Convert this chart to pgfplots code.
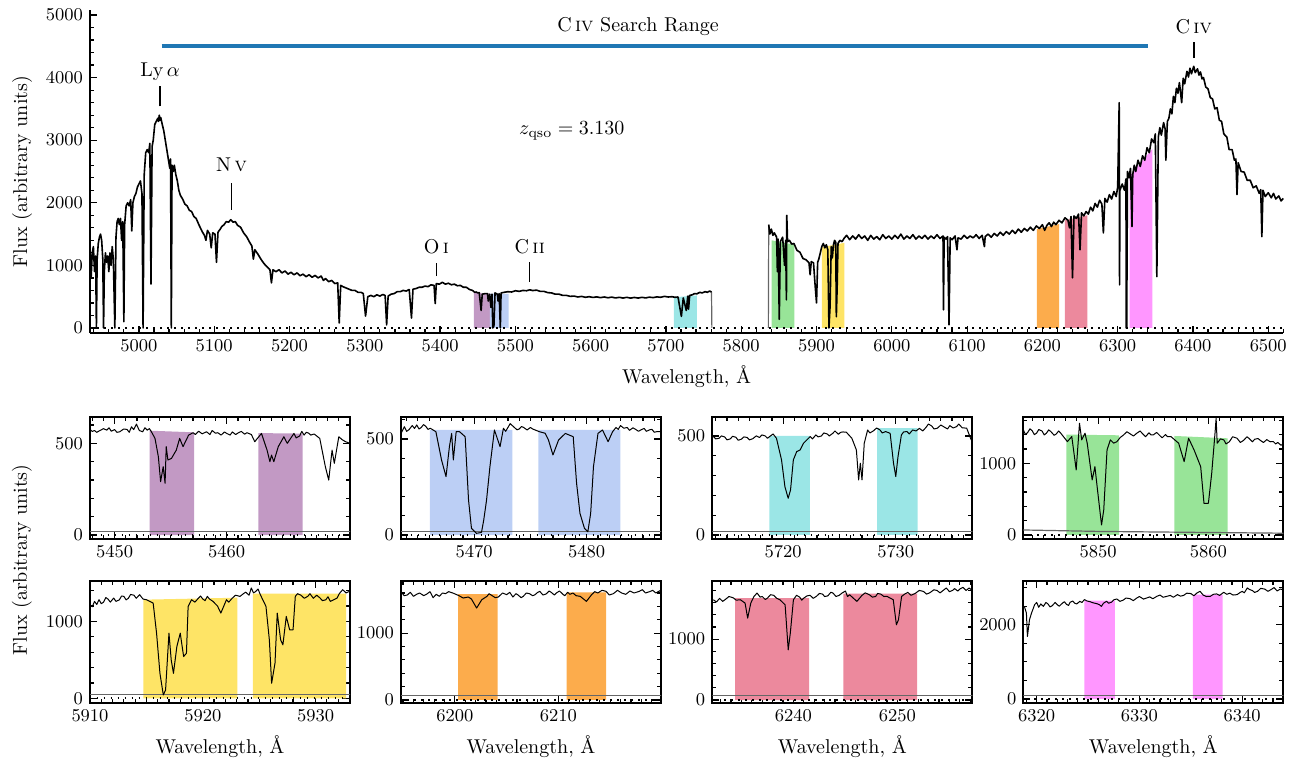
\documentclass[border=0pt]{standalone}
\usepackage{pgfplots}
\pgfplotsset{compat=1.18}
\definecolor{cpurple}{RGB}{194,153,196}
\definecolor{cblue}{RGB}{188,207,245}
\definecolor{ccyan}{RGB}{155,230,230}
\definecolor{cgreen}{RGB}{152,228,152}
\definecolor{cyellow}{RGB}{254,228,102}
\definecolor{corange}{RGB}{252,172,76}
\definecolor{cpink}{RGB}{236,137,157}
\definecolor{cmagenta}{RGB}{255,150,255}
\definecolor{mplblue}{RGB}{31,119,180}
\pgfplotsset{
  base/.style={scale only axis, tick align=inside, scaled ticks=false,
    /pgf/number format/1000 sep={},
    axis line style={line width=0.9pt},
    tick style={black, line width=0.6pt},
    tick label style={font=\fontsize{9.5}{11}\selectfont},
    label style={font=\fontsize{10}{12}\selectfont}},
  small/.style={base, width=130pt, height=61pt, major tick length=3.5pt,
    minor tick length=2pt},
  spec/.style={black, line width=0.5pt, line join=round},
  zl/.style={black, line width=0.9pt, dash pattern=on 0.9pt off 2.6pt},
  el/.style={black!60, line width=0.6pt},
  mspec/.style={black, line width=0.8pt, line join=round},
}
\begin{document}
\begin{tikzpicture}
\path[use as bounding box] (0,0) rectangle (649.5pt,380pt);
% ---------------- main panel ----------------
\begin{axis}[base, at={(45pt,213.5pt)}, anchor=south west,
  width=596.65pt, height=161.5pt,
  xmin=4935, xmax=6520, ymin=-80, ymax=5080,
  axis x line*=bottom, axis y line*=left,
  xtick={5000,5100,...,6500}, ytick={0,1000,...,5000},
  minor xtick={4940,4960,...,6520}, minor ytick={0,200,...,5000},
  major tick length=3.5pt, minor tick length=1.8pt,
  xlabel={Wavelength, \AA}, ylabel={Flux (arbitrary units)}, clip=false]
\addplot[draw=none, fill=cpurple] coordinates {(5445,0) (5445,565) (5466,550) (5466,0)} \closedcycle;
\addplot[draw=none, fill=cblue] coordinates {(5466,0) (5466,550) (5491,545) (5491,0)} \closedcycle;
\addplot[draw=none, fill=ccyan] coordinates {(5710.5,0) (5710.5,490) (5741,520) (5741,0)} \closedcycle;
\addplot[draw=none, fill=cgreen] coordinates {(5840.5,0) (5840.5,1400) (5870.6,1330) (5870.6,0)} \closedcycle;
\addplot[draw=none, fill=cyellow] coordinates {(5907,0) (5907,1290) (5937,1360) (5937,0)} \closedcycle;
\addplot[draw=none, fill=corange] coordinates {(6192.7,0) (6192.7,1580) (6222.3,1660) (6222.3,0)} \closedcycle;
\addplot[draw=none, fill=cpink] coordinates {(6230,0) (6230,1720) (6259.6,1800) (6259.6,0)} \closedcycle;
\addplot[draw=none, fill=cmagenta] coordinates {(6316,0) (6316,2430) (6346,2860) (6346,0)} \closedcycle;
\addplot[zl] coordinates {(4935,0) (6520,0)};
\addplot[black!60, line width=0.6pt] coordinates {(5760.5,575) (5761,0)};
\addplot[black!60, line width=0.6pt] coordinates {(5836,0) (5836.5,1650)};
\addplot[mspec] coordinates {
(4935,1250) (4936.5,800) (4938,1200) (4939.5,1300) (4941,900) (4942.5,1150) (4943.5,0) (4944.5,1100)
(4946,1350) (4947.5,1450) (4949,1500) (4950.5,1400) (4952,1100) (4953,0) (4954,900) (4955.5,1200)
(4957,1050) (4958.5,1150) (4960,900) (4961.5,1200) (4963,1000) (4964.5,1300) (4966,1100) (4968,0)
(4969.5,1450) (4971,1700) (4972.5,1750) (4974,1650) (4975.5,1750) (4977,1400) (4978.5,1700) (4980,100)
(4981,1650) (4983,1950) (4985,2000) (4987,1950) (4989,2050) (4990.5,1550) (4992,2000) (4994,2100)
(4996,2150) (4998,2250) (5000,2300) (5002,2350) (5004,2150) (5005.5,0) (5007,2450) (5009,2800)
(5011,2850) (5013,2800) (5014.5,2950) (5016,700) (5017.5,2900) (5019,3000) (5021,3250) (5023,3300)
(5025,3350) (5026,3300) (5027,3400) (5028,3320) (5029,3360) (5031,3250) (5033,3150) (5035,3000) (5037,2850) (5039,2700)
(5041,2550) (5042,2700) (5043,0) (5044,2600) (5045.5,2500) (5047,2600) (5049,2450) (5051,2350)
(5053,2200) (5055,2120) (5058,2060) (5061,1980) (5064,1950) (5067,1880) (5070,1860) (5073,1780) (5076,1750) (5080,1640)
(5084,1540) (5087,1480) (5089,1400) (5091,1560) (5094,1500) (5096,1280) (5098,1520) (5101,1500)
(5103,1050) (5105,1530) (5108,1580) (5110,1620) (5113,1650) (5116,1700) (5119,1690) (5122,1730)
(5125,1690) (5128,1700) (5131,1640) (5135,1610) (5139,1520) (5143,1460) (5147,1370) (5150,1310)
(5152,1100) (5154,1250) (5158,1180) (5162,1100) (5166,1030) (5170,980) (5174,930) (5176,720)
(5178,930) (5182,900) (5186,930) (5190,880) (5194,910) (5198,860) (5202,890) (5206,850)
(5210,880) (5214,835) (5218,860) (5222,820) (5226,850) (5230,810) (5234,840) (5238,800)
(5242,830) (5245,760) (5248,790) (5252,740) (5256,760) (5260,710) (5264,720) (5266,80)
(5268,680) (5271,660) (5275,640) (5279,620) (5283,600) (5287,600) (5291,570) (5295,570)
(5298,550) (5301,190) (5304,500) (5308,520) (5312,500) (5316,530) (5320,510) (5324,535)
(5327,520) (5329,50) (5331,510) (5335,540) (5339,550) (5343,580) (5347,580) (5351,600)
(5355,590) (5359,615) (5362,160) (5364,620) (5368,630) (5372,650) (5376,650) (5380,670)
(5384,660) (5388,690) (5392,680) (5393.5,390) (5395,710) (5399,700) (5403,730) (5407,700)
(5411,715) (5415,690) (5419,700) (5423,675) (5427,680) (5431,650) (5435,650) (5439,615)
(5443,600) (5446,570) (5448,575) (5450,560) (5452,565) (5454.5,280) (5456,540) (5460,550) (5463,550)
(5464,430) (5466,540) (5467.5,330) (5469,540) (5470,0) (5471.5,30) (5473,560) (5476,540)
(5477,430) (5478.5,550) (5480,0) (5481,560) (5485,570) (5490,580) (5495,575) (5500,595)
(5505,585) (5510,600) (5515,595) (5519,610) (5523,598) (5528,605) (5533,585) (5538,585)
(5543,565) (5548,560) (5553,540) (5558,540) (5563,520) (5568,520) (5573,505) (5578,510)
(5583,495) (5588,505) (5593,490) (5598,500) (5603,488) (5608,497) (5613,485) (5618,495)
(5623,483) (5628,493) (5633,480) (5638,490) (5643,478) (5648,490) (5653,477) (5658,488)
(5663,478) (5668,490) (5673,480) (5678,493) (5683,485) (5688,497) (5693,490) (5698,505)
(5703,495) (5708,500) (5712,490) (5716,495) (5720.5,185) (5723,480) (5727,280) (5729,510)
(5730,300) (5731.5,520) (5735,530) (5738,550) (5741,545) (5745,570) (5748,560) (5752,580)
(5755,570) (5758,590) (5760.5,575)};
\addplot[mspec] coordinates {
(5836.5,1650) (5838,1500) (5840,1580) (5842,1480) (5844,1520) (5847,1450) (5848,900) (5849,1420)
(5850.5,140) (5852,1380) (5855,1450) (5857.5,1000) (5859,1400) (5860,450) (5860.5,1800) (5861.5,1380)
(5864,1400) (5867,1340) (5870,1350) (5874,1240) (5878,1210) (5882,1110) (5886,1090) (5890,1040)
(5891.5,850) (5893,1060) (5896,1040) (5898,700) (5900,400) (5901.5,1050) (5903,1100) (5905,1200)
(5907,1300) (5909,1350) (5911,1280) (5913,1330) (5915,1250) (5916.5,0) (5918,350) (5919.5,1300)
(5921,1120) (5922.5,1330) (5924,1400) (5925.5,1370) (5926.3,180) (5927.5,700) (5928.5,1350) (5931,1400)
(5934,1380) (5937,1440) (5940,1480) (5944,1410) (5948,1470) (5952,1420) (5956,1490) (5960,1430)
(5964,1470) (5968,1400) (5972,1480) (5976,1420) (5980,1460) (5984,1410) (5988,1490) (5992,1430)
(5996,1470) (6000,1420) (6004,1480) (6008,1430) (6012,1500) (6016,1420) (6020,1470) (6024,1430)
(6028,1490) (6032,1420) (6036,1470) (6040,1430) (6044,1480) (6048,1420) (6052,1470) (6056,1430)
(6060,1490) (6064,1430) (6068,1470) (6068.6,290) (6069.5,1450) (6072,1420) (6074,1460) (6076,50)
(6077.5,1440) (6080,1410) (6084,1470) (6086.5,1250) (6088,1440) (6092,1420) (6096,1480) (6100,1430)
(6104,1470) (6108,1440) (6112,1490) (6116,1430) (6120,1480) (6123,1300) (6124,1460) (6128,1500)
(6132,1450) (6136,1510) (6140,1470) (6144,1530) (6148,1480) (6152,1540) (6156,1500) (6160,1560)
(6164,1510) (6168,1580) (6172,1530) (6176,1590) (6180,1550) (6184,1610) (6188,1560) (6192,1630)
(6196,1590) (6200,1650) (6203,1560) (6206,1640) (6209,1680) (6212,1620) (6215,1690) (6218,1650)
(6222,1720) (6226,1680) (6230,1760) (6234,1720) (6236,1600) (6238,1780) (6240,800) (6242,1790)
(6245,1750) (6248,1820) (6250,1250) (6252,1840) (6255,1790) (6258,1860) (6261,1820) (6264,1930)
(6267,1870) (6270,1990) (6273,1930) (6276,2040) (6279,1980) (6281,1520) (6283,2070) (6286,2010)
(6289,2130) (6292,2060) (6295,2180) (6298,2100) (6300,2250) (6302,3600) (6302.5,690) (6303,2200)
(6306,2300) (6309,2200) (6311,2380) (6311.4,0) (6312,0) (6313,2500) (6315,2400) (6317,2550)
(6319,1620) (6320,2450) (6322,2600) (6324,2500) (6327,2680) (6330,2580) (6333,2750) (6336,2680)
(6339,2880) (6342,2800) (6345,3020) (6348,2960) (6350,3100) (6352,820) (6354,3050) (6356,3200)
(6358,3080) (6361,3280) (6363,3180) (6364,2680) (6366,3300) (6368,3350) (6370,3500) (6372,3420)
(6374,3700) (6376,3600) (6378,3830) (6380,3750) (6382,3920) (6385,3600) (6387,3990) (6389,3900)
(6392,4100) (6394,4010) (6396,4150) (6398,4060) (6401,4180) (6403,4080) (6406,4140) (6408,4040)
(6410,4090) (6412,3980) (6414,4000) (6417,3850) (6420,3820) (6423,3680) (6426,3660) (6429,3500)
(6432,3520) (6435,3320) (6438,3300) (6441,3100) (6445,3050) (6448,2850) (6452,2850) (6455,2680)
(6457,2700) (6458.5,2130) (6460,2640) (6464,2500) (6468,2490) (6472,2360) (6476,2360) (6480,2240)
(6484,2270) (6488,2150) (6490,2210) (6491.5,1460) (6493,2200) (6496,2100) (6500,2160) (6504,2080)
(6507,2150) (6510,2060) (6514,2110) (6517,2030) (6520,2070)};
% annotations
\addplot[mplblue, line width=2pt] coordinates {(5030,4500) (6340,4500)};
\node at (axis cs:5663,4820) {C\,\textsc{iv} Search Range};
\addplot[black, line width=0.8pt] coordinates {(5028,3540) (5028,3860)};
\node at (axis cs:5028,4090) {Ly\,$\alpha$};
\addplot[black, line width=0.8pt] coordinates {(5123,1890) (5123,2320)};
\node at (axis cs:5123,2600) {N\,\textsc{v}};
\addplot[black, line width=0.8pt] coordinates {(5395,830) (5395,1040)};
\node at (axis cs:5395,1300) {O\,\textsc{i}};
\addplot[black, line width=0.8pt] coordinates {(5519,740) (5519,1060)};
\node at (axis cs:5519,1300) {C\,\textsc{ii}};
\addplot[black, line width=0.8pt] coordinates {(6401,4310) (6401,4570)};
\node at (axis cs:6401,4810) {C\,\textsc{iv}};
\node at (axis cs:5575,3150) {$z_{\mathrm{qso}} = 3.130$};
\end{axis}
% ---------------- row 1 ----------------
\begin{axis}[small, at={(45pt,110.35pt)}, anchor=south west,
  xmin=5447.8, xmax=5471, ymin=-23, ymax=642, xtick={5450,5460}, ytick={0,500},
  minor xtick={5448,5449,...,5471}, minor ytick={0,100,...,600}]
\addplot[draw=none, fill=cpurple] coordinates {(5453.13,0) (5453.13,569) (5457.1,560) (5457.1,0)} \closedcycle;
\addplot[draw=none, fill=cpurple] coordinates {(5462.83,0) (5462.83,556) (5466.77,553) (5466.77,0)} \closedcycle;
\addplot[zl] coordinates {(5440,0) (5480,0)};
\addplot[el] coordinates {(5440,20) (5480,20)};
\addplot[spec] coordinates {
(5447.8,576) (5448.0,565) (5448.2,570) (5448.4,560) (5448.66,569) (5449.0,580) (5449.3,572) (5449.5,585) (5449.7,566) (5450.0,575) (5450.2,560) (5450.45,563)
(5450.8,578) (5451.1,576) (5451.3,560) (5451.5,590) (5451.7,575) (5451.94,605) (5452.2,570) (5452.5,563) (5452.7,585) (5452.9,572) (5453.1,580) (5453.28,563)
(5453.6,527) (5453.9,427) (5454.1,291) (5454.33,373) (5454.5,282) (5454.6,482) (5454.75,409) (5455.07,418)
(5455.5,463) (5455.8,527) (5456.1,482) (5456.6,545) (5457,558) (5457.2,548) (5457.5,566) (5457.8,552) (5458.2,563) (5458.5,548) (5458.7,570)
(5459.0,555) (5459.2,558) (5459.5,545) (5459.8,562) (5460,554) (5460.3,545) (5460.5,562) (5460.8,548) (5461,556) (5461.3,565) (5461.6,550) (5461.8,558) (5462.2,548) (5462.5,509) (5463.1,554)
(5463.6,463) (5463.85,400) (5464.0,436) (5464.2,400) (5464.6,482) (5465.1,536) (5465.4,500) (5466,554)
(5466.2,530) (5466.5,540) (5466.7,565) (5466.9,545) (5467.1,560) (5467.3,556) (5467.5,545) (5467.8,551) (5468.3,527) (5468.8,373) (5469.1,300) (5469.4,463)
(5469.6,391) (5470,536) (5470.3,520) (5470.6,509) (5471,500)};
\end{axis}
\begin{axis}[small, at={(200.5pt,110.35pt)}, anchor=south west,
  xmin=5463.5, xmax=5486.6, ymin=-22, ymax=613, xtick={5470,5480}, ytick={0,500},
  minor xtick={5464,5465,...,5486}, minor ytick={0,100,...,600}]
\addplot[draw=none, fill=cblue] coordinates {(5466.06,0) (5466.06,547) (5473.4,547) (5473.4,0)} \closedcycle;
\addplot[draw=none, fill=cblue] coordinates {(5475.7,0) (5475.7,547) (5483.0,547) (5483.0,0)} \closedcycle;
\addplot[zl] coordinates {(5460,0) (5490,0)};
\addplot[el] coordinates {(5460,19) (5490,19)};
\addplot[spec] coordinates {
(5463.5,529) (5463.8,564) (5464.0,540) (5464.2,548) (5464.5,570) (5464.7,555) (5464.9,573) (5465.1,552) (5465.3,560) (5465.5,575) (5465.7,566) (5465.9,550) (5466.1,556)
(5466.6,538) (5467.1,391) (5467.5,304) (5467.8,460) (5468,529) (5468.15,391) (5468.4,538) (5468.7,538)
(5469.2,512) (5469.5,182) (5469.76,35) (5470.2,9) (5470.65,14) (5470.85,78) (5471.1,182) (5471.4,356)
(5471.8,547) (5472.3,460) (5472.6,556) (5472.8,540) (5473.0,560) (5473.2,580) (5473.5,564) (5473.8,548) (5474.0,552) (5474.2,565) (5474.4,560) (5474.7,547)
(5475.0,560) (5475.2,552) (5475.5,545) (5475.8,538) (5476.3,530) (5476.6,495) (5477,417) (5477.5,495) (5478.1,529) (5478.8,512)
(5479.1,269) (5479.4,113) (5479.8,35) (5480.1,17) (5480.35,113) (5480.6,356) (5481,529) (5481.4,547)
(5481.9,486) (5482.3,538) (5482.6,560) (5482.8,550) (5483.0,570) (5483.3,556) (5483.6,560) (5483.8,545) (5484.1,558) (5484.3,552) (5484.6,540) (5484.8,547) (5485.1,555) (5485.3,540)
(5485.6,548) (5485.8,550) (5486.0,535) (5486.2,538) (5486.6,538)};
\end{axis}
\begin{axis}[small, at={(356.15pt,110.35pt)}, anchor=south west,
  xmin=5713.7, xmax=5736.8, ymin=-22, ymax=594, xtick={5720,5730}, ytick={0,500},
  minor xtick={5714,5715,...,5736}, minor ytick={0,100,...,500}]
\addplot[draw=none, fill=ccyan] coordinates {(5718.76,0) (5718.76,500) (5722.37,500) (5722.37,0)} \closedcycle;
\addplot[draw=none, fill=ccyan] coordinates {(5728.34,0) (5728.34,539) (5731.93,539) (5731.93,0)} \closedcycle;
\addplot[zl] coordinates {(5710,0) (5740,0)};
\addplot[el] coordinates {(5710,16) (5740,16)};
\addplot[spec] coordinates {
(5713.8,497) (5714.0,485) (5714.3,488) (5714.5,500) (5714.8,495) (5715.0,480) (5715.3,485) (5715.5,498) (5715.8,493) (5716.0,478) (5716.3,484) (5716.5,495) (5716.8,492) (5717.0,480) (5717.3,486)
(5717.6,500) (5717.9,492) (5718.1,505) (5718.4,500) (5718.6,488) (5718.8,497) (5719.1,510) (5719.4,488) (5719.85,379) (5720.15,244) (5720.44,185) (5720.65,227)
(5720.9,379) (5721.2,421) (5721.5,429) (5721.8,463) (5722.4,497) (5722.6,485) (5722.9,505) (5723.1,495) (5723.4,500) (5723.6,515) (5723.9,510) (5724.1,500)
(5724.4,513) (5724.6,525) (5724.9,508) (5725.1,518) (5725.3,520) (5725.6,519) (5726.1,488) (5726.5,429) (5726.7,278) (5726.85,362)
(5727,278) (5727.2,463) (5727.5,530) (5727.7,515) (5728.0,525) (5728.3,540) (5728.6,530) (5728.8,515) (5729.1,522) (5729.5,513) (5729.8,362)
(5730,295) (5730.2,396) (5730.5,505) (5730.7,520) (5731.0,522) (5731.2,510) (5731.5,530) (5731.8,525) (5732.1,538) (5732.4,525) (5732.7,544) (5732.9,560) (5733.2,550)
(5733.4,535) (5733.7,539) (5734.0,555) (5734.3,545) (5734.6,535) (5734.8,552) (5735.1,540) (5735.4,547) (5735.6,560) (5735.9,541) (5736.3,539) (5736.7,480)};
\end{axis}
\begin{axis}[small, at={(511.65pt,110.35pt)}, anchor=south west,
  xmin=5843.2, xmax=5866.8, ymin=-60, ymax=1641, xtick={5850,5860}, ytick={0,1000},
  minor xtick={5844,5845,...,5866}, minor ytick={0,200,...,1600}]
\addplot[draw=none, fill=cgreen] coordinates {(5847.1,0) (5847.1,1400) (5851.9,1390) (5851.9,0)} \closedcycle;
\addplot[draw=none, fill=cgreen] coordinates {(5856.9,0) (5856.9,1381) (5861.75,1348) (5861.75,0)} \closedcycle;
\addplot[zl] coordinates {(5840,0) (5870,0)};
\addplot[el] coordinates {(5843.2,70) (5850,50) (5866.8,25)};
\addplot[spec] coordinates {
(5843.2,1465) (5843.4,1400) (5843.6,1430) (5843.8,1480) (5844,1455) (5844.2,1400) (5844.4,1419) (5844.6,1470) (5844.9,1450) (5845.1,1395) (5845.3,1420) (5845.5,1465) (5845.7,1442) (5846.0,1390) (5846.2,1410)
(5846.4,1450) (5846.6,1419) (5847.2,1302) (5847.6,1372) (5848,907) (5848.15,1232) (5848.3,1558) (5848.5,1326) (5848.8,1419)
(5849.0,1279) (5849.45,767) (5849.7,953) (5849.9,674) (5850.3,140) (5850.5,349) (5850.8,1186) (5851.1,1326)
(5851.4,1280) (5851.7,1302) (5852.0,1360) (5852.3,1395) (5852.6,1440) (5852.9,1410) (5853.2,1380) (5853.5,1419) (5853.8,1450) (5854.1,1400) (5854.3,1370) (5854.6,1425) (5854.8,1395) (5855,1395) (5855.3,1430) (5855.6,1385)
(5855.8,1355) (5856.1,1400) (5856.3,1370) (5856.6,1372) (5857.3,1279) (5857.8,1023) (5858.2,1349) (5858.7,1186) (5859.3,953) (5859.6,442)
(5860,442) (5860.3,860) (5860.6,1419) (5860.7,1628) (5860.8,1279) (5861.1,1340) (5861.4,1326) (5861.6,1270) (5861.9,1300) (5862.2,1370) (5862.6,1349)
(5862.9,1290) (5863.2,1320) (5863.5,1370) (5863.7,1345) (5864.0,1300) (5864.2,1335) (5864.5,1345) (5864.8,1310) (5865.0,1290) (5865.3,1330) (5865.6,1300) (5865.9,1302) (5866.1,1270) (5866.3,1290) (5866.6,1250) (5866.8,1279)};
\end{axis}
% ---------------- row 2 ----------------
\begin{axis}[small, at={(45pt,28.35pt)}, anchor=south west,
  xmin=5910, xmax=5933.05, ymin=-65, ymax=1521, xtick={5910,5920,5930}, ytick={0,1000},
  minor xtick={5910,5911,...,5933}, minor ytick={0,200,...,1400},
  xlabel={Wavelength, \AA}]
\addplot[draw=none, fill=cyellow] coordinates {(5914.74,0) (5914.74,1282) (5923.07,1308) (5923.07,0)} \closedcycle;
\addplot[draw=none, fill=cyellow] coordinates {(5924.43,0) (5924.43,1360) (5932.7,1360) (5932.7,0)} \closedcycle;
\addplot[zl] coordinates {(5905,0) (5940,0)};
\addplot[el] coordinates {(5905,48) (5940,48)};
\addplot[spec] coordinates {
(5910,1216) (5910.2,1190) (5910.4,1260) (5910.6,1220) (5910.8,1282) (5911.0,1230) (5911.2,1250) (5911.4,1310) (5911.6,1290) (5911.8,1250) (5912.1,1303) (5912.3,1260) (5912.6,1280) (5912.8,1330) (5913.0,1325)
(5913.2,1280) (5913.4,1300) (5913.6,1350) (5913.9,1340) (5914.1,1300) (5914.4,1347) (5914.7,1290) (5915,1282) (5915.3,1260) (5915.6,1238) (5915.9,847) (5916.2,325) (5916.5,43)
(5916.7,108) (5917,847) (5917.2,499) (5917.4,325) (5917.7,673) (5918,847) (5918.3,543) (5918.55,586)
(5918.7,1195) (5919,1282) (5919.3,1250) (5919.6,1300) (5919.8,1330) (5920.0,1290) (5920.2,1270) (5920.4,1325) (5920.6,1290) (5920.9,1260) (5921.3,1200) (5921.6,1108)
(5922.1,1282) (5922.3,1250) (5922.6,1300) (5922.9,1340) (5923.3,1325) (5923.6,1360) (5923.8,1380) (5924.1,1340) (5924.3,1434) (5924.5,1370) (5924.7,1390) (5924.9,1420) (5925.1,1347) (5925.6,1195)
(5925.9,760) (5926.1,195) (5926.4,456) (5926.6,1108) (5926.9,760) (5927.1,695) (5927.4,1064) (5927.7,890)
(5928,890) (5928.2,1325) (5928.4,1360) (5928.7,1340) (5929.0,1300) (5929.3,1325) (5929.5,1360) (5929.8,1300) (5930.1,1340) (5930.4,1303) (5930.6,1270) (5930.9,1280) (5931.1,1320) (5931.3,1260)
(5931.6,1280) (5931.9,1303) (5932.1,1360) (5932.4,1412) (5932.7,1370) (5933,1390)};
\end{axis}
\begin{axis}[small, at={(200.5pt,28.35pt)}, anchor=south west,
  xmin=6194.8, xmax=6219.9, ymin=-50, ymax=1775, xtick={6200,6210}, ytick={0,1000},
  minor xtick={6195,6196,...,6219}, minor ytick={0,200,...,1600},
  xlabel={Wavelength, \AA}]
\addplot[draw=none, fill=corange] coordinates {(6200.32,0) (6200.32,1585) (6204.13,1585) (6204.13,0)} \closedcycle;
\addplot[draw=none, fill=corange] coordinates {(6210.8,0) (6210.8,1609) (6214.6,1609) (6214.6,0)} \closedcycle;
\addplot[zl] coordinates {(6190,0) (6225,0)};
\addplot[el] coordinates {(6190,65) (6225,65)};
\addplot[spec] coordinates {
(6194.9,1600) (6195.1,1560) (6195.4,1570) (6195.7,1610) (6196.0,1550) (6196.3,1580) (6196.6,1600) (6197.0,1560) (6197.3,1585) (6197.6,1620) (6197.9,1530) (6198.2,1580) (6198.5,1550) (6198.8,1600) (6199.1,1590)
(6199.4,1620) (6199.8,1600) (6200.1,1580) (6200.4,1560) (6200.8,1525) (6201.3,1540) (6201.6,1510) (6202.1,1375) (6202.6,1500) (6203.1,1550)
(6203.3,1590) (6203.6,1560) (6203.9,1530) (6204.2,1540) (6204.6,1600) (6205,1575) (6205.3,1610) (6205.6,1540) (6205.9,1590) (6206.1,1570) (6206.4,1530) (6206.6,1550) (6206.9,1600) (6207.2,1590) (6207.5,1560) (6207.7,1570)
(6208.0,1610) (6208.2,1625) (6208.5,1570) (6208.8,1585) (6209.1,1630) (6209.3,1610) (6209.6,1570) (6209.8,1600) (6210.1,1630) (6210.4,1585) (6210.6,1560) (6210.9,1610) (6211.1,1580) (6211.4,1600) (6211.7,1560) (6212.1,1550)
(6212.7,1475) (6213.2,1575) (6213.5,1620) (6213.8,1600) (6214.2,1640) (6214.6,1625) (6214.9,1570) (6215.3,1590) (6215.7,1640) (6216.1,1600) (6216.5,1580) (6216.9,1630) (6217.3,1600) (6217.8,1625)
(6218.1,1650) (6218.4,1600) (6218.8,1620) (6219.1,1640) (6219.4,1600) (6219.8,1635)};
\end{axis}
\begin{axis}[small, at={(356.15pt,28.35pt)}, anchor=south west,
  xmin=6232.2, xmax=6257.2, ymin=-54, ymax=1950, xtick={6240,6250}, ytick={0,1000},
  minor xtick={6233,6234,...,6257}, minor ytick={0,200,...,1800},
  xlabel={Wavelength, \AA}]
\addplot[draw=none, fill=cpink] coordinates {(6234.4,0) (6234.4,1675) (6241.5,1675) (6241.5,0)} \closedcycle;
\addplot[draw=none, fill=cpink] coordinates {(6244.8,0) (6244.8,1746) (6251.9,1746) (6251.9,0)} \closedcycle;
\addplot[zl] coordinates {(6230,0) (6260,0)};
\addplot[el] coordinates {(6230,70) (6260,70)};
\addplot[spec] coordinates {
(6232.3,1647) (6232.6,1610) (6232.9,1670) (6233.2,1620) (6233.5,1658) (6233.8,1700) (6234.2,1680) (6234.5,1640) (6234.9,1647) (6235.35,1592) (6235.6,1345) (6235.9,1592)
(6236.2,1700) (6236.5,1757) (6236.8,1690) (6237.0,1700) (6237.3,1650) (6237.5,1674) (6237.8,1730) (6238.1,1720) (6238.4,1670) (6238.7,1647) (6239.2,1564) (6239.5,824) (6239.7,1098)
(6240,1647) (6240.3,1720) (6240.6,1690) (6240.8,1640) (6241.0,1674) (6241.3,1710) (6241.6,1720) (6241.9,1670) (6242.2,1702) (6242.5,1750) (6242.8,1740) (6243.0,1700) (6243.3,1710) (6243.6,1770) (6243.8,1757)
(6244.1,1700) (6244.4,1720) (6244.7,1760) (6245.0,1790) (6245.2,1700) (6245.4,1729) (6246.1,1620) (6246.6,1720) (6246.9,1760) (6247.3,1729) (6247.6,1690) (6247.9,1700) (6248.1,1750) (6248.4,1740)
(6248.7,1700) (6249,1702) (6249.6,1647) (6249.9,1235) (6250.1,1318) (6250.4,1702) (6250.7,1740) (6251,1768) (6251.3,1720) (6251.7,1750) (6252.1,1800) (6252.5,1784)
(6252.8,1740) (6253.1,1760) (6253.5,1810) (6253.8,1800) (6254.1,1760) (6254.4,1801) (6254.7,1840) (6255.0,1780) (6255.3,1800) (6255.5,1830) (6255.8,1790) (6256,1823) (6256.3,1850) (6256.6,1800) (6256.9,1840) (6257.1,1812)};
\end{axis}
\begin{axis}[small, at={(511.65pt,28.35pt)}, anchor=south west,
  xmin=6318.7, xmax=6344, ymin=-116, ymax=3170, xtick={6320,6330,6340}, ytick={0,2000},
  minor xtick={6319,6320,...,6344}, minor ytick={0,500,...,3000},
  xlabel={Wavelength, \AA}]
\addplot[draw=none, fill=cmagenta] coordinates {(6324.65,0) (6324.65,2649) (6327.6,2649) (6327.6,0)} \closedcycle;
\addplot[draw=none, fill=cmagenta] coordinates {(6335.2,0) (6335.2,2811) (6338.1,2811) (6338.1,0)} \closedcycle;
\addplot[zl] coordinates {(6315,0) (6350,0)};
\addplot[el] coordinates {(6315,100) (6350,100)};
\addplot[spec] coordinates {
(6318.8,2495) (6319,2315) (6319.1,1685) (6319.3,2135) (6319.5,2315) (6319.8,2540) (6320.0,2600) (6320.2,2470) (6320.4,2560) (6320.65,2495)
(6320.9,2600) (6321.1,2560) (6321.3,2480) (6321.5,2510) (6321.8,2600) (6322,2540) (6322.2,2500) (6322.5,2580) (6322.7,2620) (6322.9,2550) (6323.1,2520) (6323.25,2604) (6323.5,2640) (6323.7,2580) (6323.9,2560) (6324.2,2630)
(6324.4,2600) (6324.65,2676) (6324.9,2640) (6325.2,2620) (6325.5,2590) (6325.85,2568) (6326.1,2540) (6326.3,2495) (6326.5,2580) (6326.8,2631) (6327.0,2580) (6327.3,2610) (6327.5,2670) (6327.8,2694) (6328.1,2630) (6328.4,2660)
(6328.7,2720) (6329.1,2700) (6329.4,2650) (6329.75,2721) (6330.0,2760) (6330.4,2690) (6330.7,2720) (6331.0,2750) (6331.3,2700) (6331.7,2766) (6332.0,2800) (6332.3,2740) (6332.6,2760) (6333.0,2790) (6333.3,2740) (6333.7,2811)
(6334.0,2770) (6334.3,2790) (6334.6,2850) (6335.0,2840) (6335.3,2780) (6335.6,2856) (6335.9,2900) (6336.2,2800) (6336.5,2760) (6336.9,2766) (6337.2,2820) (6337.5,2830) (6337.8,2790) (6338.2,2874) (6338.5,2820) (6338.8,2850)
(6339.1,2800) (6339.5,2811) (6339.8,2870) (6340.0,2900) (6340.2,2860) (6340.5,2991) (6340.7,2950) (6341.0,2920) (6341.2,2870) (6341.5,2901) (6341.8,2980) (6342.2,2960) (6342.5,2900) (6342.8,2946) (6343.1,3000) (6343.4,2910) (6343.7,2960)
(6344,2946)};
\end{axis}
\node[rotate=90, font=\fontsize{10}{12}\selectfont] at (11pt,100pt) {Flux (arbitrary units)};
\end{tikzpicture}
\end{document}
